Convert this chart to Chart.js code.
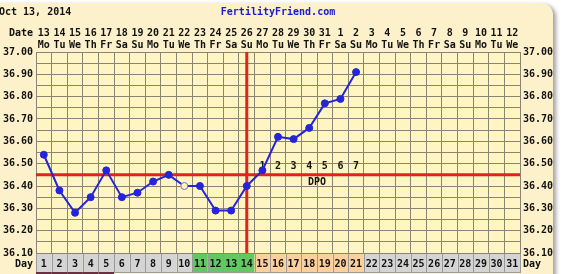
<!DOCTYPE html>
<html lang="en">
<head>
    <meta charset="UTF-8">
    <title>Fertility Chart</title>
    <style>
        body {
            margin: 0;
            background: #ffffff;
            overflow: hidden;
        }
        #card {
            position: absolute;
            left: -12px;
            top: 3px;
            width: 565px;
            height: 300px;
            background: #fcf1cb;
            border-radius: 12px;
            box-shadow: 3px 2px 4px #a0a0a0;
        }
        #chart {
            position: absolute;
            left: 0;
            top: 0;
        }
    </style>
    <script src="https://cdn.jsdelivr.net/npm/chart.js"></script>
</head>
<body>
    <div id="card"></div>
    <canvas id="chart" width="564" height="274"></canvas>

    <script>
        // cycle days (bottom row)
        const cycleDays = ['1','2','3','4','5','6','7','8','9','10','11','12','13','14','15','16',
                           '17','18','19','20','21','22','23','24','25','26','27','28','29','30','31'];
        // calendar dates and weekdays (top row)
        const dates = ['13','14','15','16','17','18','19','20','21','22','23','24','25','26','27','28',
                       '29','30','31','1','2','3','4','5','6','7','8','9','10','11','12'];
        const weekdays = ['Mo','Tu','We','Th','Fr','Sa','Su','Mo','Tu','We','Th','Fr','Sa','Su','Mo','Tu',
                          'We','Th','Fr','Sa','Su','Mo','Tu','We','Th','Fr','Sa','Su','Mo','Tu','We'];
        // temperatures
        const temps = [36.54, 36.38, 36.28, 36.35, 36.47, 36.35, 36.37, 36.42, 36.45, 36.40,
                       36.40, 36.29, 36.29, 36.40, 36.47, 36.62, 36.61, 36.66, 36.77, 36.79,
                       36.91, null, null, null, null, null, null, null, null, null, null];
        const discardedDays = [10];
        const coverline = 36.45;
        const ovulationDay = 14;
        const dpoLabels = ['1','2','3','4','5','6','7'];
        const periodDays = [1, 2, 3, 4, 5];
        const fertileDays = [11, 12, 13, 14];
        const lutealDays = [15, 16, 17, 18, 19, 20, 21];
        const headerDate = 'Oct 13, 2014';
        const siteName = 'FertilityFriend.com';

        const FONT = 'bold 10px "DejaVu Sans Mono"';
        const topLabels = dates.map((d, i) => [d, weekdays[i]]);

        const decor = {
            id: 'decor',
            beforeDraw(chart) {
                const ctx = chart.ctx;
                const ca = chart.chartArea;
                const xs = chart.scales.x;
                ctx.save();
                ctx.fillStyle = '#fff5c2';
                ctx.fillRect(ca.left, ca.top, ca.right - ca.left, ca.bottom - ca.top);

                // day row cells
                const half = (xs.getPixelForValue(1) - xs.getPixelForValue(0)) / 2;
                cycleDays.forEach((d, i) => {
                    const day = i + 1;
                    let fill = '#d4d4d4';
                    if (fertileDays.includes(day)) fill = '#62c862';
                    if (lutealDays.includes(day)) fill = '#fcd09c';
                    const cx = xs.getPixelForValue(i);
                    ctx.fillStyle = fill;
                    ctx.fillRect(cx - half, ca.bottom, half * 2, 19);
                    ctx.strokeStyle = '#9a9a9a';
                    ctx.lineWidth = 1;
                    ctx.strokeRect(Math.round(cx - half) + 0.5, ca.bottom + 0.5, Math.round(half * 2), 19);
                    if (periodDays.includes(day)) {
                        ctx.fillStyle = '#6a3040';
                        ctx.fillRect(cx - half, ca.bottom + 19, half * 2, 2);
                    }
                });
                ctx.restore();
            },
            beforeDatasetsDraw(chart) {
                const ctx = chart.ctx;
                const ca = chart.chartArea;
                const xs = chart.scales.x;
                const ys = chart.scales.y;
                ctx.save();
                ctx.strokeStyle = '#e2231c';
                ctx.lineWidth = 3;
                const cy = ys.getPixelForValue(coverline);
                ctx.beginPath();
                ctx.moveTo(ca.left, cy);
                ctx.lineTo(ca.right, cy);
                ctx.stroke();
                const ox = xs.getPixelForValue(ovulationDay - 1);
                ctx.beginPath();
                ctx.moveTo(ox, ca.top);
                ctx.lineTo(ox, ca.bottom);
                ctx.stroke();

                // DPO numbers
                ctx.font = FONT;
                ctx.fillStyle = '#111';
                ctx.textAlign = 'center';
                ctx.textBaseline = 'middle';
                dpoLabels.forEach((t, i) => {
                    ctx.fillText(t, xs.getPixelForValue(ovulationDay + i), cy - 8);
                });
                const mid = (xs.getPixelForValue(ovulationDay + 3) + xs.getPixelForValue(ovulationDay + 4)) / 2;
                ctx.fillText('DPO', mid, cy + 8);
                ctx.restore();
            },
            afterDraw(chart) {
                const ctx = chart.ctx;
                const ca = chart.chartArea;
                ctx.save();
                ctx.font = FONT;
                ctx.textBaseline = 'middle';
                ctx.fillStyle = '#111';
                ctx.textAlign = 'left';
                ctx.fillText(headerDate, -1, 12);
                ctx.fillStyle = '#1a1ad0';
                ctx.textAlign = 'center';
                ctx.fillText(siteName, (ca.left + ca.right) / 2, 12);
                ctx.fillStyle = '#111';
                ctx.textAlign = 'right';
                ctx.fillText('Date', ca.left - 3, 33);
                ctx.fillText('Day', ca.left - 3, ca.bottom + 11);
                ctx.textAlign = 'left';
                ctx.fillText('Day', ca.right + 3, ca.bottom + 11);
                ctx.restore();
            }
        };

        const gridColor = '#8c8472';
        const tickLabel = v => (Math.round(v * 100) % 10 === 0 ? v.toFixed(2) : '');

        new Chart(document.getElementById('chart').getContext('2d'), {
            type: 'line',
            data: {
                labels: cycleDays,
                datasets: [{
                    data: temps,
                    borderColor: '#2424d8',
                    borderWidth: 2,
                    pointRadius: 3.5,
                    pointBorderWidth: 1,
                    pointBackgroundColor: cycleDays.map((d, i) => discardedDays.includes(i + 1) ? '#fff5c2' : '#2424d8'),
                    pointBorderColor: cycleDays.map((d, i) => discardedDays.includes(i + 1) ? '#7272c8' : '#2424d8'),
                    tension: 0,
                    spanGaps: false
                }]
            },
            options: {
                responsive: false,
                animation: false,
                devicePixelRatio: 1,
                layout: { padding: 0 },
                plugins: {
                    legend: { display: false },
                    tooltip: { enabled: false }
                },
                scales: {
                    x: {
                        type: 'category',
                        position: 'bottom',
                        offset: true,
                        grid: { color: gridColor, offset: true, drawTicks: false },
                        border: { color: gridColor },
                        ticks: {
                            autoSkip: false, maxRotation: 0, padding: 5,
                            color: '#111', font: { family: 'DejaVu Sans Mono', size: 10, weight: 'bold' }
                        },
                        afterFit: s => { s.height = 21; }
                    },
                    xTop: {
                        type: 'category',
                        position: 'top',
                        labels: topLabels,
                        offset: true,
                        grid: { display: false, drawTicks: false },
                        border: { display: false },
                        ticks: {
                            autoSkip: false, maxRotation: 0, padding: 1,
                            color: '#111', font: { family: 'DejaVu Sans Mono', size: 10, weight: 'bold', lineHeight: 1.2 }
                        },
                        afterFit: s => { s.height = 52; }
                    },
                    y: {
                        position: 'left',
                        min: 36.10,
                        max: 37.00,
                        grid: { color: gridColor, drawTicks: false },
                        border: { color: gridColor },
                        ticks: {
                            stepSize: 0.05, autoSkip: false, padding: 3, callback: tickLabel,
                            color: '#111', font: { family: 'DejaVu Sans Mono', size: 10, weight: 'bold' }
                        },
                        afterFit: s => { s.width = 36; }
                    },
                    y2: {
                        position: 'right',
                        min: 36.10,
                        max: 37.00,
                        grid: { display: false, drawTicks: false },
                        border: { color: gridColor },
                        ticks: {
                            stepSize: 0.05, autoSkip: false, padding: 3, callback: tickLabel,
                            color: '#111', font: { family: 'DejaVu Sans Mono', size: 10, weight: 'bold' }
                        },
                        afterFit: s => { s.width = 44; }
                    }
                }
            },
            plugins: [decor]
        });
    </script>
</body>
</html>
